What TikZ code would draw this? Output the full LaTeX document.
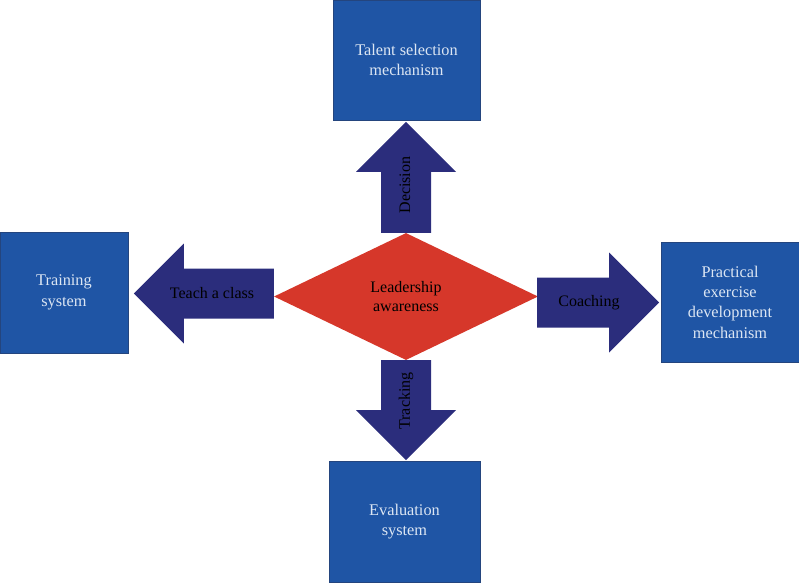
\documentclass[tikz,border=0pt]{standalone}
\usepackage{fontspec}
\setmainfont{Liberation Serif}
\usetikzlibrary{calc,shapes.geometric}
\definecolor{boxblue}{HTML}{1F55A5}
\definecolor{boxedge}{HTML}{24457E}
\definecolor{boxtext}{HTML}{DCE6F3}
\definecolor{arrnavy}{HTML}{2B2D7C}
\definecolor{leadred}{HTML}{D6372A}
\tikzset{
  sysblk/.style={draw=boxedge,fill=boxblue,text=boxtext,line width=0.8pt,align=center,inner sep=0pt,font=\fontsize{16.3}{20.3}\selectfont},
  leadblk/.style={diamond,fill=leadred,text=black,inner sep=0pt,align=center,font=\fontsize{16}{19}\selectfont},
  arrlbl/.style={text=black,inner sep=0pt,font=\fontsize{16}{19}\selectfont},
  arrfill/.style={fill=arrnavy}
}
% block arrow: start point, direction, shaft length
\newcommand{\blockarrow}[3]{%
  \fill[arrfill,shift={(#1)},rotate=#2] (0,-25) -- (#3,-25) -- (#3,-50) -- (#3+50,0)
    -- (#3,50) -- (#3,25) -- (0,25) -- cycle;}

\begin{document}
\begin{tikzpicture}[x=1pt,y=-1pt]
  \useasboundingbox (0,0) rectangle (799,582);

  \node[leadblk,minimum width=264,minimum height=127] (lead) at (406,296.5) {Leadership\\awareness};
  \node[sysblk,minimum width=147,minimum height=120] (talent) at (406.5,60) {Talent selection\\mechanism};
  \node[sysblk,minimum width=128,minimum height=121] (train) at (64,292.5) {Training\\system};
  \node[sysblk,minimum width=138,minimum height=120] (practice) at (730,302) {Practical\\exercise\\development\\mechanism};
  \node[sysblk,minimum width=151,minimum height=121] (eval) at (404.5,521.5) {Evaluation\\system};

  \blockarrow{lead.north}{90}{61}
  \blockarrow{$(lead.west)+(0,-3)$}{180}{90}
  \blockarrow{$(lead.east)+(-1,6)$}{0}{72}
  \blockarrow{lead.south}{-90}{50}

  \node[arrlbl,rotate=90] (decision) at (405,185) {Decision};
  \node[arrlbl] (teach) at (212,293) {Teach a class};
  \node[arrlbl] (coaching) at (589,303) {Coaching};
  \node[arrlbl,rotate=90] (tracking) at (406,401) {Tracking};
\end{tikzpicture}
\end{document}
